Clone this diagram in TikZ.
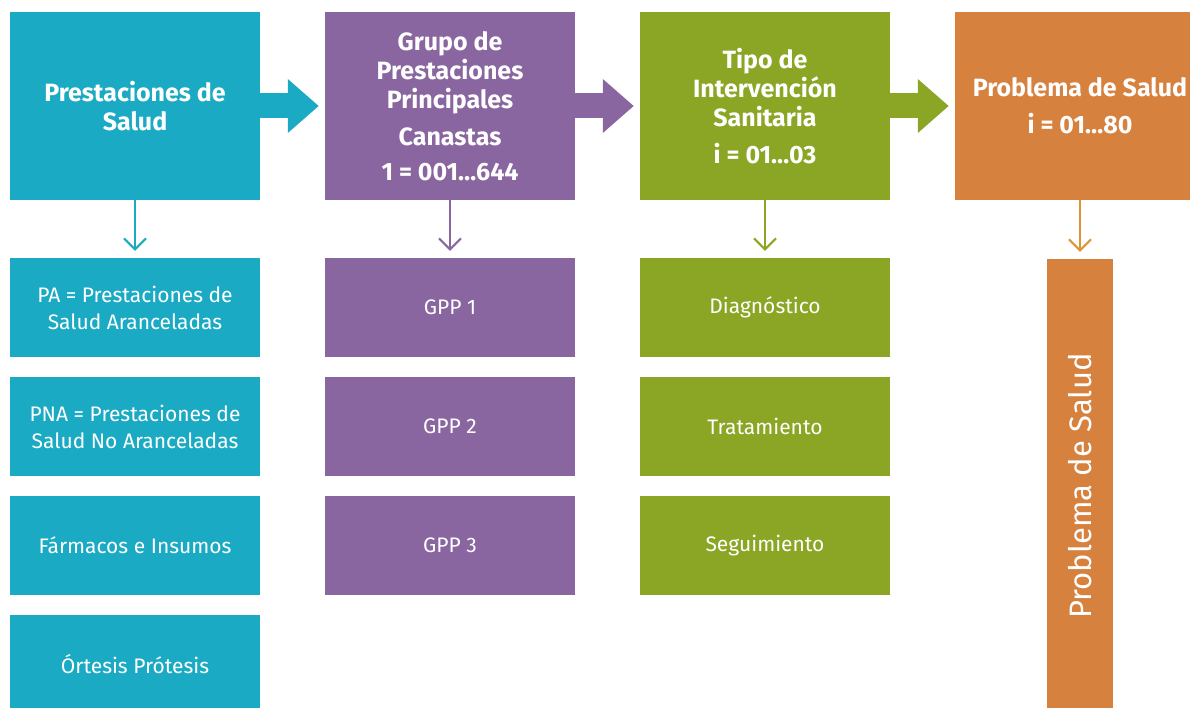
\documentclass[tikz,border=0pt]{standalone}
\usepackage{fontspec}
\setmainfont{Fira Sans}
\usepackage{xcolor}
\usetikzlibrary{arrows.meta,calc}
\definecolor{cTeal}{HTML}{1BAAC4}
\definecolor{cPurple}{HTML}{8A66A0}
\definecolor{cGreen}{HTML}{8BA524}
\definecolor{cOrange}{HTML}{D7813F}
\tikzstyle{tsBox} = [
    rectangle,
    inner sep=0pt,
    text=white,
    align=center,
    minimum width=250pt
]
\tikzstyle{tsHeader} = [
    tsBox,
    minimum height=188pt,
    font=\bfseries\fontsize{25}{29}\selectfont
]
\tikzstyle{tsSub} = [
    tsBox,
    minimum height=99pt,
    font=\fontsize{21}{27}\selectfont
]
\tikzstyle{tsBigArrow} = [
    line width=25pt,
    -{Triangle[length=31pt,width=52pt]},
    shorten >=6pt
]
\tikzstyle{tsSmallArrow} = [
    line width=2pt,
    -{Straight Barb[length=11pt,width=22pt]},
    shorten >=7pt
]

\begin{document}
\begin{tikzpicture}[x=1pt, y=-1pt]

        \useasboundingbox (0,0) rectangle (1190,708);

        \node[tsHeader, fill=cTeal] (hPrest) at (135,106)
            {Prestaciones de\\Salud};
        \node[tsHeader, fill=cPurple] (hGrupo) at (450,106)
            {Grupo de\\Prestaciones\\Principales\\[8pt]Canastas\\[6pt]1 = 001…644};
        \node[tsHeader, fill=cGreen] (hTipo) at (765,106)
            {Tipo de\\Intervención\\Sanitaria\\[8pt]i = 01…03};
        \node[tsHeader, fill=cOrange] (hProb) at (1080,106)
            {Problema de Salud\\[8pt]i = 01…80};

        \draw[tsBigArrow, cTeal] (hPrest.east) -- (hGrupo.west);
        \draw[tsBigArrow, cPurple] (hGrupo.east) -- (hTipo.west);
        \draw[tsBigArrow, cGreen] (hTipo.east) -- (hProb.west);

        \node[tsSub, fill=cTeal] (pa) at (135,307.5)
            {PA = Prestaciones de\\Salud Aranceladas};
        \node[tsSub, fill=cTeal] (pna) at (135,426.5)
            {PNA = Prestaciones de\\Salud No Aranceladas};
        \node[tsSub, fill=cTeal] (farm) at (135,545.5) {Fármacos e Insumos};
        \node[tsSub, fill=cTeal] (ortesis) at (135,664.5) {Órtesis Prótesis};

        \node[tsSub, fill=cPurple] (gpp1) at (450,307.5) {GPP 1};
        \node[tsSub, fill=cPurple] (gpp2) at (450,426.5) {GPP 2};
        \node[tsSub, fill=cPurple] (gpp3) at (450,545.5) {GPP 3};

        \node[tsSub, fill=cGreen] (diag) at (765,307.5) {Diagnóstico};
        \node[tsSub, fill=cGreen] (trat) at (765,426.5) {Tratamiento};
        \node[tsSub, fill=cGreen] (seg) at (765,545.5) {Seguimiento};

        \node[rectangle, fill=cOrange, minimum width=66pt, minimum height=461pt,
              inner sep=0pt] (pBar) at (1080,489.5) { };
        \node[rotate=90, text=white, font=\fontsize{31}{36}\selectfont]
            (pBarText) at (1080,486) {Problema de Salud};

        \draw[tsSmallArrow, cTeal] (hPrest.south) -- (pa.north);
        \draw[tsSmallArrow, cPurple] (hGrupo.south) -- (gpp1.north);
        \draw[tsSmallArrow, cGreen] (hTipo.south) -- (diag.north);
        \draw[tsSmallArrow, cOrange!85!yellow] (hProb.south) -- (pBar.north);

\end{tikzpicture}
\end{document}
